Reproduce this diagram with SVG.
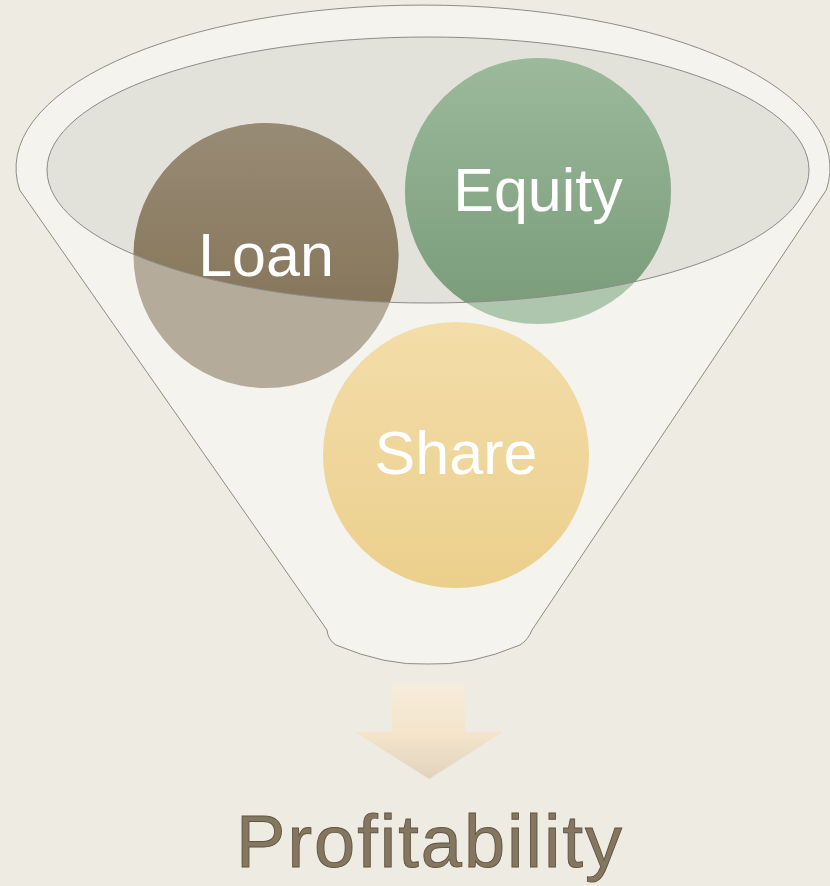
<svg xmlns="http://www.w3.org/2000/svg" width="830" height="886" viewBox="0 0 830 886">
  <style>
    .lbl { font-family: "Liberation Sans", Arial, sans-serif; font-size: 61px; fill: #ffffff; text-anchor: middle; }
    .rim { fill: none; stroke: #8c8c86; stroke-width: 1; }
  </style>
  <defs>
    <linearGradient id="gLoan" x1="0" y1="0" x2="0" y2="1">
      <stop offset="0" stop-color="#988b75"/>
      <stop offset="1" stop-color="#7e6e50"/>
    </linearGradient>
    <linearGradient id="gEq" x1="0" y1="0" x2="0" y2="1">
      <stop offset="0" stop-color="#9cb99c"/>
      <stop offset="1" stop-color="#789b78"/>
    </linearGradient>
    <linearGradient id="gShare" x1="0" y1="0" x2="0" y2="1">
      <stop offset="0" stop-color="#f3dda9"/>
      <stop offset="1" stop-color="#ebcf8d"/>
    </linearGradient>
    <linearGradient id="gArrow" x1="0" y1="0" x2="0" y2="1">
      <stop offset="0" stop-color="#f6ecdb"/>
      <stop offset="0.5" stop-color="#f4e5cc"/>
      <stop offset="1" stop-color="#e1d3be"/>
    </linearGradient>
    <clipPath id="inner">
      <ellipse cx="428" cy="170" rx="381" ry="133"/>
    </clipPath>
  </defs>

  <rect width="830" height="886" fill="#eeebe3"/>

  <g id="funnel">
    <path d="M 19.7,190 A 407,163 0 1 1 826.3,190 L 532,630 Q 528,640 520,645 Q 470,666 428,664 Q 386,666 336,645 Q 328,640 327,630 Z" fill="#f4f3ee" stroke="#8c8c86" stroke-width="1"/>
    <ellipse cx="428" cy="170" rx="381" ry="133" fill="#e2e1da"/>
  </g>

  <g id="loan">
    <circle cx="266" cy="255.5" r="132.5" fill="#b4ab9a"/>
    <circle cx="266" cy="255.5" r="132.5" fill="url(#gLoan)" clip-path="url(#inner)"/>
  </g>
  <g id="equity">
    <circle cx="538" cy="191" r="133" fill="#aec5ae"/>
    <circle cx="538" cy="191" r="133" fill="url(#gEq)" clip-path="url(#inner)"/>
  </g>

  <ellipse class="rim" cx="428" cy="170" rx="381" ry="133"/>

  <g id="loan-label"><text class="lbl" x="266" y="276">Loan</text></g>
  <g id="equity-label"><text class="lbl" x="538" y="211">Equity</text></g>

  <g id="share">
    <circle cx="456" cy="455" r="133" fill="url(#gShare)"/>
    <text class="lbl" x="456" y="474">Share</text>
  </g>

  <g id="connectors">
    <path d="M 392,685 L 465,685 L 465,732 L 503,732 L 429,779 L 355,732 L 392,732 Z" fill="url(#gArrow)"/>
  </g>

  <g id="profitability">
    <text x="430" y="867" text-anchor="middle" font-family="'Liberation Sans', Arial, sans-serif" font-size="74" letter-spacing="2" fill="#85775f" stroke="#5f5442" stroke-width="0.9">Profitability</text>
  </g>
</svg>
